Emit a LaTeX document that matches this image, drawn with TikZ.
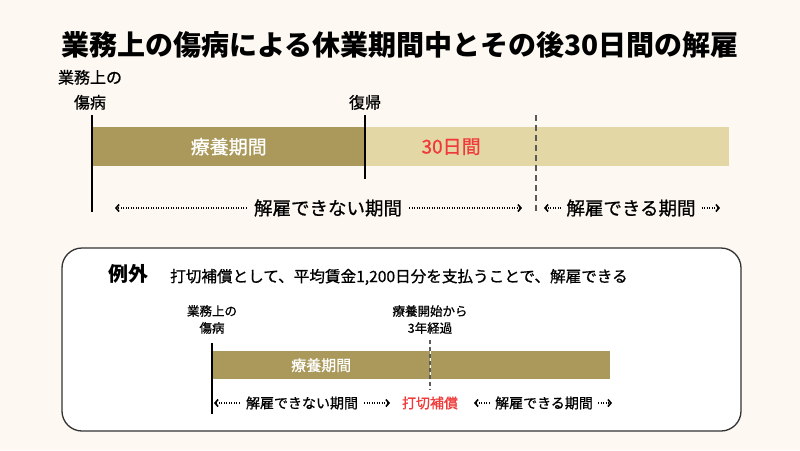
\documentclass[tikz,border=0pt]{standalone}
\usepackage{fontspec}
\setmainfont{Noto Sans CJK JP}
\newfontfamily\medfont{Noto Sans CJK JP}[FakeBold=0.8]
\usetikzlibrary{positioning,arrows.meta}
\definecolor{mycream}{RGB}{253,249,242}
\definecolor{myolive}{RGB}{170,153,90}
\definecolor{mysand}{RGB}{228,215,166}
\definecolor{myred}{RGB}{240,58,58}
\definecolor{mygray}{RGB}{90,90,90}

\begin{document}
\begin{tikzpicture}[x=1pt,y=-1pt,
bigtitle/.style={font={\fontsize{28}{34}\selectfont\bfseries}},
lbl/.style={inner sep=0pt,align=center,font={\medfont\fontsize{16}{25}\selectfont}},
smalllbl/.style={lbl,font={\medfont\fontsize{12.5}{17}\selectfont}},
bartext/.style={inner sep=0pt,font={\medfont\fontsize{19}{22}\selectfont}},
smallbartext/.style={inner sep=0pt,font={\medfont\fontsize{15}{18}\selectfont}},
bar/.style={anchor=north west,inner sep=0pt,text=white},
period/.style={inner sep=0pt,font={\medfont\fontsize{18.5}{22}\selectfont}},
smallperiod/.style={inner sep=0pt,font={\medfont\fontsize{14}{17}\selectfont}},
markline/.style={draw=black,line width=2pt},
cutline/.style={draw=mygray,line width=1.5pt,dash pattern=on 6pt off 4pt},
dotarr/.style={draw=black,line width=1.2pt,dash pattern=on 1pt off 1.5pt,
  -{Straight Barb[length=3pt,width=7pt,line width=1.6pt]}},
]
\useasboundingbox[fill=mycream] (0,0) rectangle (800,450);
% title
\node[bigtitle] (title) at (400,45) {業務上の傷病による休業期間中とその後30日間の解雇};
% upper timeline
\node[bar,fill=myolive,minimum width=273pt,minimum height=39pt,bartext] (ryo) at (92,127) {療養期間};
\node[bar,fill=mysand,minimum width=171pt,minimum height=39pt,bartext,text=myred] (thirty) at (ryo.north east) {30日間};
\node[bar,fill=mysand,minimum width=192pt,minimum height=39pt] (after) at (thirty.north east) {};
\coordinate (injtop) at (92,115);
\coordinate (injbot) at (92,212);
\coordinate (rettop) at (365,115);
\coordinate (retbot) at (365,179);
\coordinate (cuttop) at (536,115);
\coordinate (cutbot) at (536,212);
\draw[markline] (injtop) -- (injbot);
\draw[markline] (rettop) -- (retbot);
\draw[cutline] (cuttop) -- (cutbot);
\node[lbl,anchor=south] (inj) at (90,110) {業務上の\\傷病};
\node[lbl,anchor=south] (ret) at (365,110) {復帰};
% upper periods
\node[period] (ng) at (328,208) {解雇できない期間};
\node[period] (ok) at (631,208) {解雇できる期間};
\coordinate (ngl) at (115,208);
\coordinate (ngr) at (522,208);
\coordinate (okl) at (544,208);
\coordinate (okr) at (720,208);
\draw[dotarr] ([xshift=-7pt]ng.west) -- (ngl);
\draw[dotarr] ([xshift=7pt]ng.east) -- (ngr);
\draw[dotarr] ([xshift=-5pt]ok.west) -- (okl);
\draw[dotarr] ([xshift=6pt]ok.east) -- (okr);
% exception box
\node[draw=black!80,line width=1.3pt,fill=white,rounded corners=20pt,
  minimum width=679pt,minimum height=183pt] (exbox) at (401.5,339.5) {};
\node[inner sep=0pt,font={\fontsize{20}{22}\selectfont\bfseries}] (rei) at (128,274) {例外};
\node[inner sep=0pt,anchor=west,font={\medfont\fontsize{15.6}{18}\selectfont}] (rule) at (170,277)
  {打切補償として、平均賃金1,200日分を支払うことで、解雇できる};
% lower timeline
\node[bar,fill=myolive,minimum width=218pt,minimum height=28pt,smallbartext] (ryo2) at (212,351) {療養期間};
\node[bar,fill=myolive,minimum width=179pt,minimum height=28pt] (after2) at (ryo2.north east) {};
\coordinate (inj2top) at (212,343);
\coordinate (inj2bot) at (212,414);
\coordinate (cut2top) at (430,340);
\coordinate (cut2bot) at (430,390);
\draw[markline] (inj2top) -- (inj2bot);
\draw[cutline,line width=1.2pt,dash pattern=on 4pt off 3pt] (cut2top) -- (cut2bot);
\node[smalllbl,anchor=south] (inj2) at (212,334) {業務上の\\傷病};
\node[smalllbl,anchor=south] (three) at (430,334) {療養開始から\\3年経過};
% lower periods
\node[smallperiod] (ng2) at (302,403) {解雇できない期間};
\node[smallperiod,text=myred] (pay) at (430,403) {打切補償};
\node[smallperiod] (ok2) at (544,403) {解雇できる期間};
\coordinate (ng2l) at (214,403);
\coordinate (ng2r) at (390,403);
\coordinate (ok2l) at (474,403);
\coordinate (ok2r) at (612,403);
\draw[dotarr,line width=1.1pt] ([xshift=-6pt]ng2.west) -- (ng2l);
\draw[dotarr,line width=1.1pt] ([xshift=6pt]ng2.east) -- (ng2r);
\draw[dotarr,line width=1.1pt] ([xshift=-5pt]ok2.west) -- (ok2l);
\draw[dotarr,line width=1.1pt] ([xshift=5pt]ok2.east) -- (ok2r);
\end{tikzpicture}
\end{document}
